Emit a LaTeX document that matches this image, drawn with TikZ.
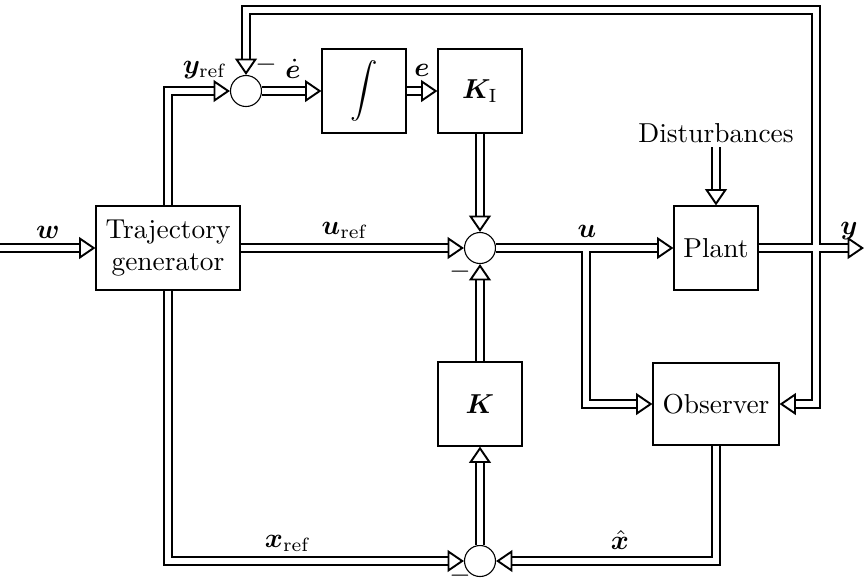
\documentclass[tikz,border=0pt]{standalone}
\usepackage{amsmath,bm}
\usetikzlibrary{arrows.meta}
\begin{document}
\begin{tikzpicture}[x=0.365pt,y=-0.365pt,
  blk/.style={draw,line width=0.4pt,minimum width=#1*0.365pt,minimum height=84*0.365pt,inner sep=0pt},
  blk/.default=84,
  sumc/.style={draw,circle,line width=0.4pt,minimum size=31*0.365pt,inner sep=0pt},
  dbl/.style={line width=0.75pt,double,double distance=2.2pt,-{Triangle[open,fill=white,line width=0.7pt,length=6pt,width=8pt]}},
  lbl/.style={inner sep=0pt}]
\useasboundingbox (0,0) rectangle (864,581);
% blocks
\node[blk=144,align=center] (tg) at (168,248) {Trajectory\\generator};
\node[blk] (int) at (364,91) {$\displaystyle\int$};
\node[blk] (ki) at (480,91) {$\bm{K}_{\mathrm{I}}$};
\node[blk] (plant) at (716,248) {Plant};
\node[blk=126,minimum height=82*0.365pt] (obs) at (716,404) {Observer};
\node[blk] (k) at (480,404) {$\bm{K}$};
\node[sumc] (s1) at (246,91) {};
\node[sumc] (s2) at (480,248) {};
\node[sumc] (s3) at (480,561) {};
\node[lbl] (dist) at (716,133) {Disturbances};
% coordinates
\coordinate (win) at (0,248);
\coordinate (yout) at (864,248);
\coordinate (br) at (586,248);
\coordinate (fb) at (816,248);
\coordinate (fbtop) at (816,10);
% connectors
\draw[dbl] (win) -- (tg.west);
\draw[dbl] (tg.east) -- (s2.west);
\draw[dbl] (tg.north) |- (s1.west);
\draw[dbl] (tg.south) |- (s3.west);
\draw[dbl] (s1.east) -- (int.west);
\draw[dbl] (int.east) -- (ki.west);
\draw[dbl] (ki.south) -- (s2.north);
\draw[dbl] (br) |- (obs.west);
\draw[dbl] (s2.east) -- (plant.west);
\draw[white,line width=2.2pt] (br) -- ++(0,7);
\draw[dbl] (dist.south) ++(0,4) -- (plant.north);
\draw[dbl] (fb) -- (fbtop) -| (s1.north);
\draw[dbl] (fb) |- (obs.east);
\draw[dbl] (plant.east) -- (yout);
\draw[white,line width=2.2pt] ([xshift=-7*0.365pt]fb) -- ([xshift=7*0.365pt]fb);
\draw[white,line width=2.2pt] ([yshift=-7*0.365pt]fb) -- ([yshift=7*0.365pt]fb);
\draw[dbl] (k.north) -- (s2.south);
\draw[dbl] (s3.north) -- (k.south);
\draw[dbl] (obs.south) |- (s3.east);
% labels
\node[lbl] at (48,232) {$\bm{w}$};
\node[lbl] at (205,70) {$\bm{y}_{\mathrm{ref}}$};
\node[lbl] at (266,65) {$-$};
\node[lbl] at (293,69) {$\dot{\bm{e}}$};
\node[lbl] at (422,70) {$\bm{e}$};
\node[lbl] at (345,230) {$\bm{u}_{\mathrm{ref}}$};
\node[lbl] at (587,231) {$\bm{u}$};
\node[lbl] at (460,272) {$-$};
\node[lbl] at (849,231) {$\bm{y}$};
\node[lbl] at (288,543) {$\bm{x}_{\mathrm{ref}}$};
\node[lbl] at (620,540) {$\hat{\bm{x}}$};
\node[lbl] at (460,576) {$-$};
\end{tikzpicture}
\end{document}
